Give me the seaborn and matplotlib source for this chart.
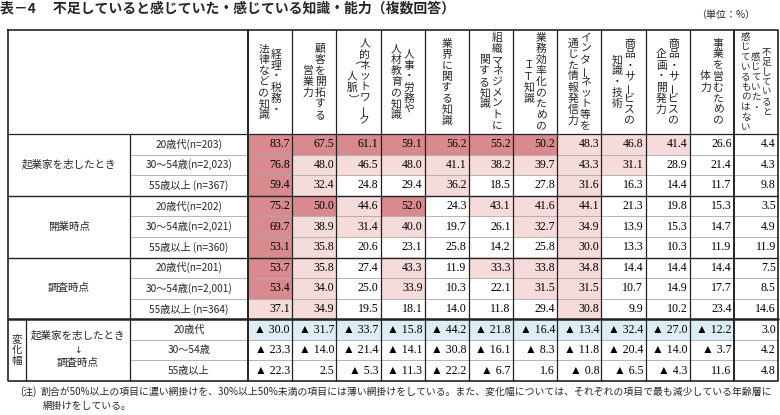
import numpy as np
import matplotlib
matplotlib.use("Agg")
import matplotlib.pyplot as plt
from matplotlib.colors import ListedColormap
import seaborn as sns

# ---------------- data ----------------
items = [
    ["経理・税務・", "法律などの知識"],
    ["顧客を開拓する", "営業力"],
    ["人的ネットワーク", "（人脈）"],
    ["人事・労務や", "人材教育の知識"],
    ["業界に関する知識"],
    ["組織マネジメントに", "関する知識"],
    ["業務効率化のための", "ＩＴ知識"],
    ["インターネット等を", "通じた情報発信力"],
    ["商品・サービスの", "知識・技術"],
    ["商品・サービスの", "企画・開発力"],
    ["事業を営むための", "体力"],
    ["不足していると", "感じていた・", "感じているものはない"],
]

groups = ["起業家を志したとき", "開業時点", "調査時点"]
age_labels = [
    "20歳代(n=203)", "30〜54歳(n=2,023)", "55歳以上 (n=367)",
    "20歳代(n=202)", "30〜54歳(n=2,021)", "55歳以上 (n=360)",
    "20歳代(n=201)", "30〜54歳(n=2,001)", "55歳以上 (n=364)",
]
change_labels = ["20歳代", "30〜54歳", "55歳以上"]

kigyo_20 = [83.7, 67.5, 61.1, 59.1, 56.2, 55.2, 50.2, 48.3, 46.8, 41.4, 26.6, 4.4]
kigyo_30 = [76.8, 48.0, 46.5, 48.0, 41.1, 38.2, 39.7, 43.3, 31.1, 28.9, 21.4, 4.3]
kigyo_55 = [59.4, 32.4, 24.8, 29.4, 36.2, 18.5, 27.8, 31.6, 16.3, 14.4, 11.7, 9.8]
kaigyo_20 = [75.2, 50.0, 44.6, 52.0, 24.3, 43.1, 41.6, 44.1, 21.3, 19.8, 15.3, 3.5]
kaigyo_30 = [69.7, 38.9, 31.4, 40.0, 19.7, 26.1, 32.7, 34.9, 13.9, 15.3, 14.7, 4.9]
kaigyo_55 = [53.1, 35.8, 20.6, 23.1, 25.8, 14.2, 25.8, 30.0, 13.3, 10.3, 11.9, 11.9]
chosa_20 = [53.7, 35.8, 27.4, 43.3, 11.9, 33.3, 33.8, 34.8, 14.4, 14.4, 14.4, 7.5]
chosa_30 = [53.4, 34.0, 25.0, 33.9, 10.3, 22.1, 31.5, 31.5, 10.7, 14.9, 17.7, 8.5]
chosa_55 = [37.1, 34.9, 19.5, 18.1, 14.0, 11.8, 29.4, 30.8, 9.9, 10.2, 23.4, 14.6]

# change (negative = decrease, shown with ▲)
chg_20 = [-30.0, -31.7, -33.7, -15.8, -44.2, -21.8, -16.4, -13.4, -32.4, -27.0, -12.2, 3.0]
chg_30 = [-23.3, -14.0, -21.4, -14.1, -30.8, -16.1, -8.3, -11.8, -20.4, -14.0, -3.7, 4.2]
chg_55 = [-22.3, 2.5, -5.3, -11.3, -22.2, -6.7, 1.6, -0.8, -6.5, -4.3, 11.6, 4.8]

title = "表－4　 不足していると感じていた・感じている知識・能力（複数回答）"
unit = "（単位：%）"
note1 = "割合が50%以上の項目に濃い網掛けを、30%以上50%未満の項目には薄い網掛けをしている。また、変化幅については、それぞれの項目で最も減少している年齢層に"
note2 = "網掛けをしている。"

# ---------------- prepare matrix ----------------
data = np.array([kigyo_20, kigyo_30, kigyo_55, kaigyo_20, kaigyo_30, kaigyo_55,
                 chosa_20, chosa_30, chosa_55])
change = np.array([chg_20, chg_30, chg_55])

codes_data = np.where(data >= 50, 2, np.where(data >= 30, 1, 0))
codes_chg = np.zeros(change.shape, dtype=int)
for j in range(change.shape[1]):
    if change[:, j].min() < 0:
        codes_chg[np.argmin(change[:, j]), j] = 3
codes = np.vstack([codes_data, codes_chg])

lab_data = np.array([[f"{v:.1f}" for v in row] for row in data])
lab_chg = np.array([[f"▲ {abs(v):.1f}" if v < 0 else f"{v:.1f}" for v in row] for row in change])
labels = np.vstack([lab_data, lab_chg])

sns.set_style("white")
plt.rcParams["font.family"] = ["Noto Sans CJK JP", "DejaVu Sans"]

W, H = 780, 415
L, R = 8, 778
T, HB, CB = 30, 134, 381
C0, C1, C2 = 26, 130, 248
ncol = codes.shape[1]
nrow = codes.shape[0]
cw = (R - C2) / ncol
rh = (CB - HB) / nrow

fig = plt.figure(figsize=(W / 100, H / 100), dpi=100)

# heatmap of the numeric block
ax = fig.add_axes([C2 / W, 1 - CB / H, (R - C2) / W, (CB - HB) / H])
cmap = ListedColormap(["#ffffff", "#f6dbdb", "#d98a8e", "#dcedf3"])
sns.heatmap(codes, cmap=cmap, vmin=-0.5, vmax=3.5, cbar=False,
            annot=labels, fmt="", linewidths=0,
            annot_kws=dict(fontsize=8.6, color="black",
                           family=["Liberation Serif", "DejaVu Sans"]),
            xticklabels=False, yticklabels=False, ax=ax)
for t in ax.texts:
    x, y = t.get_position()
    t.set_position((x + 0.45, y))
    t.set_ha("right")

# overlay in pixel coordinates for table frame and labels
ov = fig.add_axes([0, 0, 1, 1], zorder=5)
ov.set_xlim(0, W)
ov.set_ylim(H, 0)
ov.axis("off")
ov.patch.set_alpha(0)

dark = "#222222"
grey = "#a8a8a8"

# horizontal lines
data_end = HB + 9 * rh
for i in range(1, nrow):
    yy = HB + i * rh
    if i in (3, 6):
        ov.plot([L, R], [yy, yy], color=dark, lw=1.0)
    elif i == 9:
        ov.plot([L, R], [yy, yy], color=dark, lw=1.8)
    else:
        ov.plot([C1, R], [yy, yy], color=grey, lw=0.6)
ov.plot([L, R], [HB, HB], color=dark, lw=0.9)

# vertical lines
ov.plot([C1, C1], [HB, CB], color=dark, lw=0.9)
ov.plot([C0, C0], [data_end, CB], color=dark, lw=0.9)
for j in range(ncol):
    xx = C2 + j * cw
    ov.plot([xx, xx], [T, CB], color=dark, lw=1.4 if j in (0, ncol - 1) else 0.9)

# outer frame
ov.plot([L, R, R, L, L], [T, T, CB, CB, T], color=dark, lw=1.2)

# header (vertical writing)
rot = {"ー": 90, "（": -90, "）": -90}
hc = (T + HB) / 2
for j, lines in enumerate(items):
    cx = C2 + (j + 0.5) * cw
    n = len(lines)
    small = n == 3
    lp = 10.5 if small else 12.5
    pitch = 10 if small else 11
    fs = 6.8 if small else 7.8
    for k, line in enumerate(lines):
        lx = cx + ((n - 1) / 2 - k) * lp
        m = len(line)
        for c, ch in enumerate(line):
            cy = hc + (c - (m - 1) / 2) * pitch
            ov.text(lx, cy, ch, fontsize=fs, ha="center", va="center",
                    rotation=rot.get(ch, 0))

# row labels
for i, lab in enumerate(age_labels):
    ov.text((C1 + C2) / 2, HB + (i + 0.5) * rh, lab, fontsize=7.3,
            ha="center", va="center")
for i, lab in enumerate(change_labels):
    ov.text((C1 + C2) / 2, data_end + (i + 0.5) * rh, lab, fontsize=7.3,
            ha="center", va="center")
for g, lab in enumerate(groups):
    ov.text((L + C1) / 2, HB + (3 * g + 1.5) * rh, lab, fontsize=7.6,
            ha="center", va="center")

# change block labels
cyc = data_end + 1.5 * rh
for c, ch in enumerate("変化幅"):
    ov.text((L + C0) / 2, cyc + (c - 1) * 11, ch, fontsize=7.6,
            ha="center", va="center")
ov.text((C0 + C1) / 2, cyc - 15, "起業家を志したとき", fontsize=7.6, ha="center", va="center")
ov.text((C0 + C1) / 2, cyc, "↓", fontsize=6.5, ha="center", va="center",
        family=["DejaVu Sans"])
ov.text((C0 + C1) / 2, cyc + 13, "調査時点", fontsize=7.6, ha="center", va="center")

# title, unit, notes
ov.text(0, 8, title, fontsize=10, fontweight="bold", ha="left", va="center")
ov.text(755, 15, unit, fontsize=7.2, ha="right", va="center")
ov.text(20, 392, "(注)", fontsize=7.1, ha="left", va="center")
ov.text(40, 392, note1, fontsize=7.1, ha="left", va="center")
ov.text(43, 406, note2, fontsize=7.1, ha="left", va="center")

fig.savefig("out.png", dpi=100)
